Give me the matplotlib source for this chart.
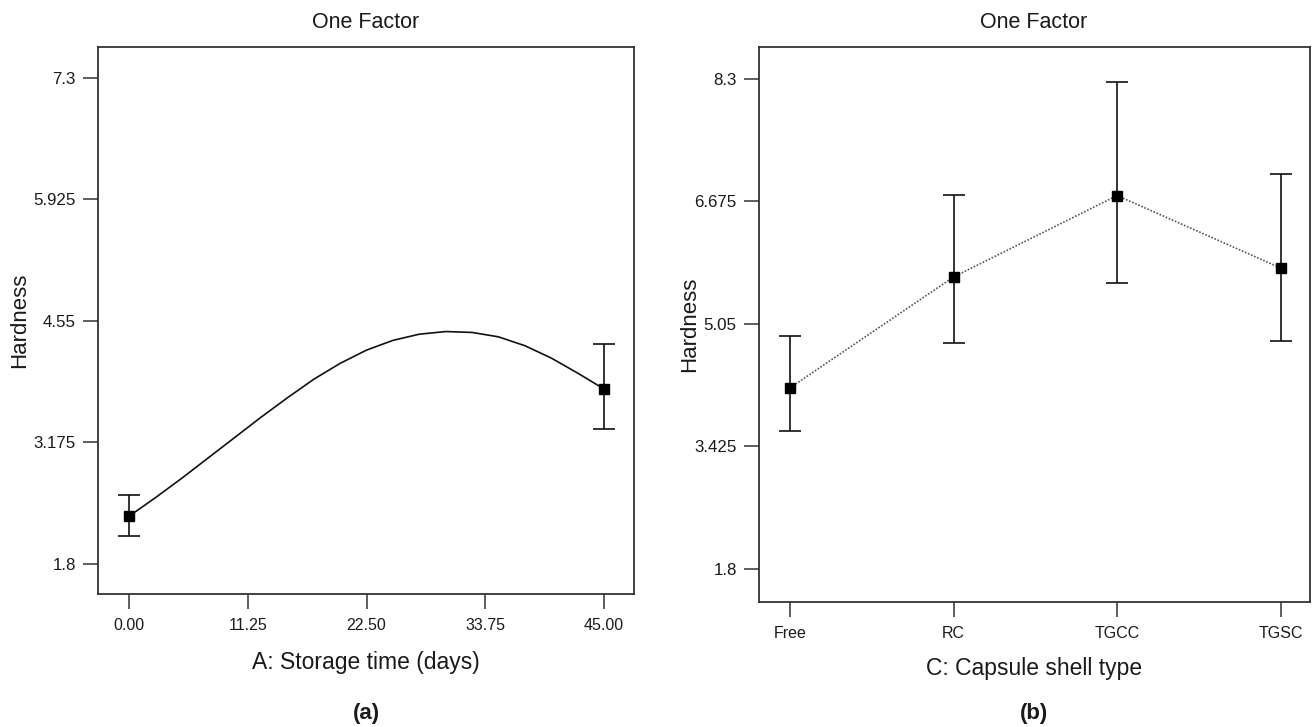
import matplotlib
matplotlib.use("Agg")
import matplotlib.pyplot as plt

plt.rcParams['font.family'] = ['Liberation Sans', 'DejaVu Sans']

# ---- data (a) ----
a_curve_x = [0, 2.5, 5, 7.5, 10, 12.5, 15, 17.5, 20, 22.5, 25, 27.5, 30, 32.5, 35, 37.5, 40, 42.5, 45]
a_curve_y = [2.34, 2.55, 2.77, 3.00, 3.23, 3.46, 3.68, 3.89, 4.07, 4.22, 4.33, 4.40, 4.43, 4.42,
             4.37, 4.27, 4.13, 3.96, 3.78]
a_pts_x = [0, 45]
a_pts_y = [2.34, 3.78]
a_err_lo = [2.12, 3.33]
a_err_hi = [2.58, 4.29]
a_xticks = [0, 11.25, 22.5, 33.75, 45]
a_xticklabels = ["0.00", "11.25", "22.50", "33.75", "45.00"]
a_yticks = [1.8, 3.175, 4.55, 5.925, 7.3]
a_yticklabels = ["1.8", "3.175", "4.55", "5.925", "7.3"]

# ---- data (b) ----
b_cats = ["Free", "RC", "TGCC", "TGSC"]
b_y = [4.20, 5.67, 6.75, 5.79]
b_err_lo = [3.63, 4.80, 5.59, 4.82]
b_err_hi = [4.89, 6.76, 8.26, 7.04]
b_yticks = [1.8, 3.425, 5.05, 6.675, 8.3]
b_yticklabels = ["1.8", "3.425", "5.05", "6.675", "8.3"]

W, H = 1313, 727
fig = plt.figure(figsize=(W / 100, H / 100), dpi=100)

def px_axes(x0, y0, x1, y1):
    return fig.add_axes([x0 / W, 1 - y1 / H, (x1 - x0) / W, (y1 - y0) / H])

spine_col = '#333333'

def style(ax):
    for s in ax.spines.values():
        s.set_color(spine_col)
        s.set_linewidth(1.3)
    ax.tick_params(direction='out', length=10.5, width=1.1, color=spine_col,
                   labelcolor='#1a1a1a')
    ax.tick_params(axis='y', pad=5.5, labelsize=12.2)
    ax.tick_params(axis='x', pad=7, labelsize=11.5)

# Panel (a)
ax1 = px_axes(98, 47, 634, 594)
ax1.plot(a_curve_x, a_curve_y, color='#111111', lw=1.2)
yerr_a = [[y - lo for y, lo in zip(a_pts_y, a_err_lo)], [hi - y for y, hi in zip(a_pts_y, a_err_hi)]]
ax1.errorbar(a_pts_x, a_pts_y, yerr=yerr_a, fmt='s', color='black', ms=7.5,
             ecolor='#111111', elinewidth=1.2, capsize=8, capthick=1.2)
ax1.set_xlim(-2.94, 47.84)
ax1.set_ylim(1.46, 7.65)
ax1.set_xticks(a_xticks)
ax1.set_xticklabels(a_xticklabels)
ax1.set_yticks(a_yticks)
ax1.set_yticklabels(a_yticklabels)
style(ax1)

# Panel (b)
ax2 = px_axes(759, 47, 1310, 602)
xb = list(range(len(b_cats)))
ax2.plot(xb, b_y, color='#555555', lw=1.2, linestyle=(0, (1, 1)))
yerr_b = [[y - lo for y, lo in zip(b_y, b_err_lo)], [hi - y for y, hi in zip(b_y, b_err_hi)]]
ax2.errorbar(xb, b_y, yerr=yerr_b, fmt='s', color='black', ms=7.5,
             ecolor='#111111', elinewidth=1.2, capsize=8, capthick=1.2)
ax2.set_xlim(-0.19, 3.18)
ax2.set_ylim(1.36, 8.72)
ax2.set_xticks(xb)
ax2.set_xticklabels(b_cats)
ax2.set_yticks(b_yticks)
ax2.set_yticklabels(b_yticklabels)
style(ax2)

# Texts
tc = '#1a1a1a'
fig.text(366 / W, 1 - 22 / H, "One Factor", ha='center', va='center', fontsize=15.5, color=tc)
fig.text(1034 / W, 1 - 22 / H, "One Factor", ha='center', va='center', fontsize=15.5, color=tc)
fig.text(366 / W, 1 - 663 / H, "A: Storage time (days)", ha='center', va='center', fontsize=16.5, color=tc)
fig.text(1034 / W, 1 - 669 / H, "C: Capsule shell type", ha='center', va='center', fontsize=16.5, color=tc)
fig.text(20 / W, 1 - 320 / H, "Hardness", ha='center', va='center', rotation=90, fontsize=16, color=tc)
fig.text(690 / W, 1 - 324 / H, "Hardness", ha='center', va='center', rotation=90, fontsize=16, color=tc)
fig.text(366 / W, 1 - 713 / H, "(a)", ha='center', va='center', fontsize=16, fontweight='bold', color=tc)
fig.text(1034 / W, 1 - 713 / H, "(b)", ha='center', va='center', fontsize=16, fontweight='bold', color=tc)

fig.savefig("out.png", dpi=100, facecolor='white')
